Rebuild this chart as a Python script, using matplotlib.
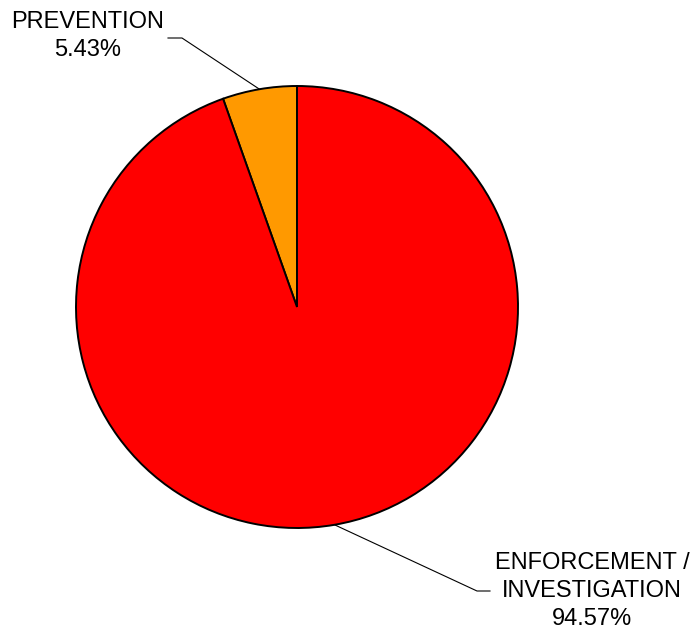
import numpy as np
import matplotlib
matplotlib.use('Agg')
import matplotlib.pyplot as plt

plt.rcParams['font.family'] = ['Liberation Sans', 'DejaVu Sans']

# data
labels = ['PREVENTION', 'ENFORCEMENT /\nINVESTIGATION']
shares = [5.43, 94.57]
colors = ['#FF9900', '#FF0000']

fig = plt.figure(figsize=(6.97, 6.30), dpi=100)
ax = fig.add_axes([0, 0, 1, 1])

cx, cy, r = 297, 323, 221
wedges, _ = ax.pie(shares, colors=colors, startangle=90, counterclock=True,
                   center=(cx, cy), radius=r, frame=True,
                   wedgeprops=dict(edgecolor='black', linewidth=1.4))
ax.set_xlim(0, 697)
ax.set_ylim(0, 630)
ax.set_aspect('equal')
ax.axis('off')

# label layout: (elbow x, elbow y, end x, text x, text y)
layout = [(182, 592, 168, 88, 594), (477, 39, 490, 592, 39)]
for w, lab, val, (ex, ey, hx, tx, ty) in zip(wedges, labels, shares, layout):
    mid = np.deg2rad((w.theta1 + w.theta2) / 2)
    px, py = cx + r * np.cos(mid), cy + r * np.sin(mid)
    ax.plot([px, ex, hx], [py, ey, ey], color='black', linewidth=0.8)
    ax.text(tx, ty, f'{lab}\n{val:.2f}%', ha='center', va='center',
            fontsize=17, linespacing=1.37)

fig.savefig('out.png', dpi=100)
